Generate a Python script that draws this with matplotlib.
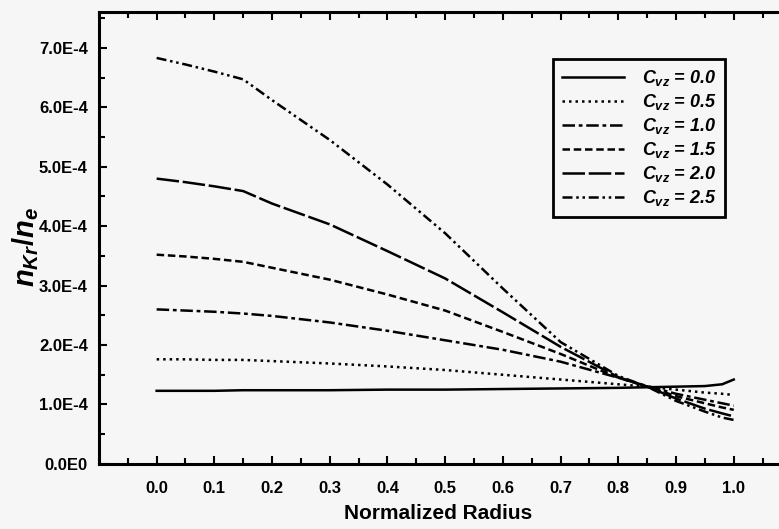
import matplotlib
matplotlib.use('Agg')
import matplotlib.pyplot as plt
from matplotlib.ticker import MultipleLocator
import numpy as np

plt.rcParams['font.family'] = ['Liberation Sans', 'DejaVu Sans']
plt.rcParams['font.weight'] = 'bold'
plt.rcParams['mathtext.fontset'] = 'custom'
plt.rcParams['mathtext.it'] = 'Liberation Sans:italic:bold'
plt.rcParams['mathtext.rm'] = 'Liberation Sans:bold'

# normalized radius sample points
radius = [0.0, 0.05, 0.10, 0.15, 0.20, 0.30, 0.40, 0.50, 0.60, 0.70, 0.80, 0.85, 0.90, 0.95, 0.98, 1.0]

# n_Kr / n_e (units of 1e-4) for each C_vz
c00 = [1.23, 1.23, 1.23, 1.24, 1.24, 1.24, 1.25, 1.25, 1.26, 1.27, 1.28, 1.29, 1.30, 1.31, 1.34, 1.42]
c05 = [1.76, 1.76, 1.75, 1.75, 1.73, 1.69, 1.64, 1.58, 1.50, 1.42, 1.34, 1.30, 1.25, 1.20, 1.18, 1.16]
c10 = [2.60, 2.58, 2.56, 2.53, 2.49, 2.38, 2.24, 2.08, 1.92, 1.72, 1.45, 1.31, 1.18, 1.08, 1.02, 0.98]
c15 = [3.52, 3.49, 3.45, 3.40, 3.30, 3.10, 2.85, 2.58, 2.22, 1.85, 1.45, 1.30, 1.14, 1.02, 0.95, 0.91]
c20 = [4.80, 4.74, 4.67, 4.59, 4.38, 4.03, 3.58, 3.12, 2.55, 1.97, 1.46, 1.30, 1.10, 0.93, 0.85, 0.80]
c25 = [6.83, 6.72, 6.60, 6.47, 6.12, 5.45, 4.70, 3.88, 2.95, 2.05, 1.48, 1.30, 1.06, 0.88, 0.78, 0.74]

series = [c00, c05, c10, c15, c20, c25]
labels = [r'$C_{vz}$ = 0.0', r'$C_{vz}$ = 0.5', r'$C_{vz}$ = 1.0',
          r'$C_{vz}$ = 1.5', r'$C_{vz}$ = 2.0', r'$C_{vz}$ = 2.5']
styles = ['-', (0, (1, 1.6)), (0, (5, 1.5, 1.5, 1.5)), (0, (3, 1.5)),
          (0, (9, 1.5)), (0, (4, 1.5, 1, 1.5, 1, 1.5))]

ytick_vals = [0.0, 1e-4, 2e-4, 3e-4, 4e-4, 5e-4, 6e-4, 7e-4]
ytick_labels = ['0.0E0', '1.0E-4', '2.0E-4', '3.0E-4', '4.0E-4', '5.0E-4', '6.0E-4', '7.0E-4']
xtick_vals = [0.0, 0.1, 0.2, 0.3, 0.4, 0.5, 0.6, 0.7, 0.8, 0.9, 1.0]
xtick_labels = ['0.0', '0.1', '0.2', '0.3', '0.4', '0.5', '0.6', '0.7', '0.8', '0.9', '1.0']

fig = plt.figure(figsize=(7.79, 5.29), dpi=100, facecolor='#f6f6f6')
ax = fig.add_axes([0.127, 0.123, 0.889, 0.854])
ax.set_facecolor('#f6f6f6')

for vals, lab, ls in zip(series, labels, styles):
    ax.plot(radius, np.array(vals) * 1e-4, color='black', linestyle=ls,
            linewidth=1.8, label=lab)

ax.set_xlim(-0.1, 1.1)
ax.set_ylim(0, 7.6e-4)

ax.set_xticks(xtick_vals)
ax.set_xticklabels(xtick_labels, fontsize=12, fontweight='bold')
ax.xaxis.set_minor_locator(MultipleLocator(0.05))
ax.set_yticks(ytick_vals)
ax.set_yticklabels(ytick_labels, fontsize=12, fontweight='bold')
ax.yaxis.set_minor_locator(MultipleLocator(0.5e-4))

ax.tick_params(which='both', direction='in', top=True, right=True, width=1.5)
ax.tick_params(which='major', length=6, pad=8)
ax.tick_params(which='minor', length=4)
ax.tick_params(axis='x', which='major', pad=12)
for sp in ax.spines.values():
    sp.set_linewidth(2.2)

ax.set_xlabel('Normalized Radius', fontsize=15, fontweight='bold')
ax.xaxis.set_label_coords(0.49, -0.088)
ax.set_ylabel(r'$n_{Kr}/n_e$', fontsize=21)
ax.yaxis.set_label_coords(-0.083, 0.48)

leg = ax.legend(loc='upper left', bbox_to_anchor=(0.656, 0.896), frameon=True,
                fancybox=False, edgecolor='black', facecolor='#f6f6f6',
                framealpha=1, handlelength=3.4, handletextpad=1.0,
                labelspacing=0.22, borderpad=0.5, borderaxespad=0,
                prop={'size': 13, 'style': 'italic', 'weight': 'bold'})
leg.get_frame().set_linewidth(2.0)

fig.savefig('out.png', dpi=100, facecolor='#f6f6f6')
